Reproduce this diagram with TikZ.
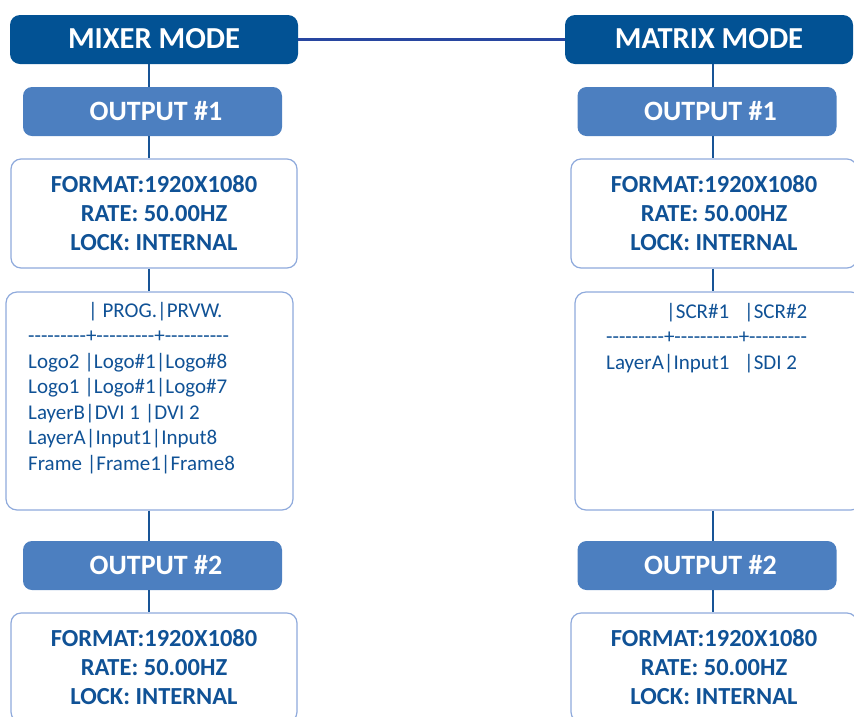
\documentclass[tikz,border=0pt]{standalone}
\usepackage{fontspec}
\setmainfont{Carlito}
\newfontfamily\tabfont{Carlito}[Ligatures=TeXOff]
\definecolor{titleblue}{RGB}{2,82,148}
\definecolor{outblue}{RGB}{76,127,192}
\definecolor{txtblue}{RGB}{16,82,150}
\definecolor{bordblue}{RGB}{143,170,220}
\definecolor{vconn}{RGB}{24,84,150}
\definecolor{hconn}{RGB}{40,70,160}
\tikzset{
  modebox/.style={fill=titleblue, rounded corners=10pt, minimum width=288pt, minimum height=49pt, inner sep=0pt, text=white, font=\bfseries\fontsize{30.5}{34}\selectfont},
  outbox/.style={fill=outblue, rounded corners=9pt, minimum width=259pt, minimum height=49pt, inner sep=0pt, text=white, font=\bfseries\fontsize{28}{31}\selectfont},
  fmtbox/.style={draw=bordblue, line width=1.2pt, fill=white, rounded corners=10pt, minimum width=286pt, minimum height=109pt, inner sep=0pt, text=txtblue, align=center, font=\bfseries\fontsize{24.5}{29}\selectfont},
  tabbox/.style={draw=bordblue, line width=1.2pt, fill=white, rounded corners=11pt, minimum width=287pt, minimum height=218pt, inner sep=0pt},
  tabline/.style={anchor=base west, inner sep=0pt, text=txtblue, font=\tabfont\fontsize{21}{25}\selectfont},
  vline/.style={draw=vconn, line width=2.6pt},
  hline/.style={draw=hconn, line width=3pt}
}
\newcommand{\uptxt}[2]{\raisebox{#1}{#2}}
\begin{document}
\begin{tikzpicture}[x=1pt,y=-1pt]
\useasboundingbox (0,0) rectangle (854,716);
\coordinate (colL) at (149,0);
\coordinate (colR) at (713,0);
% left column
\node[modebox] (mix) at (154,39.5) {\uptxt{2pt}{MIXER MODE}};
\node[outbox] (out1L) at (152.5,111.5) {\uptxt{1pt}{\hspace{7pt}OUTPUT \#1}};
\node[fmtbox] (fmtL) at (154,213.5) {FORMAT:1920X1080\\RATE: 50.00HZ\\LOCK: INTERNAL};
\node[tabbox] (tabL) at (149.5,401) {};
\node[outbox] (out2L) at (152.5,565.5) {\uptxt{1pt}{\hspace{7pt}OUTPUT \#2}};
\node[fmtbox] (fmt2L) at (154,667.5) {FORMAT:1920X1080\\RATE: 50.00HZ\\LOCK: INTERNAL};
% right column
\node[modebox] (mat) at (709,39.5) {\uptxt{2pt}{MATRIX MODE}};
\node[outbox] (out1R) at (707,111.5) {\uptxt{1pt}{\hspace{7pt}OUTPUT \#1}};
\node[fmtbox] (fmtR) at (714,213.5) {FORMAT:1920X1080\\RATE: 50.00HZ\\LOCK: INTERNAL};
\node[tabbox] (tabR) at (718.5,401) {};
\node[outbox] (out2R) at (707,565.5) {\uptxt{1pt}{\hspace{7pt}OUTPUT \#2}};
\node[fmtbox] (fmt2R) at (714,667.5) {FORMAT:1920X1080\\RATE: 50.00HZ\\LOCK: INTERNAL};
% left table text
\node[tabline] (hL) at (88,317) {| PROG.|PRVW.};
\node[tabline] (dL) at (28,342.5) {---------+---------+----------};
\node[tabline] (r1L) at (28,368) {Logo2 |Logo\#1|Logo\#8};
\node[tabline] (r2L) at (28,393.5) {Logo1 |Logo\#1|Logo\#7};
\node[tabline] (r3L) at (28,419) {LayerB|DVI 1 |DVI 2};
\node[tabline] (r4L) at (28,444.5) {LayerA|Input1|Input8};
\node[tabline] (r5L) at (28,470) {Frame |Frame1|Frame8};
% right table text
\node[tabline] (hR) at (666,318) {\makebox[78pt][l]{|SCR\#1}|SCR\#2};
\node[tabline] (dR) at (606,343.5) {---------+----------+---------};
\node[tabline] (r1R) at (606,369) {\makebox[138pt][l]{LayerA|Input1}|SDI 2};
% connectors
\draw[hline] (mix.east) -- (mat.west);
\foreach \c/\a/\b in {L/mix/out1L, L/out1L/fmtL, L/fmtL/tabL, L/tabL/out2L, L/out2L/fmt2L,
                      R/mat/out1R, R/out1R/fmtR, R/fmtR/tabR, R/tabR/out2R, R/out2R/fmt2R}
  \draw[vline] (\a.south -| col\c) -- (\b.north -| col\c);
\end{tikzpicture}
\end{document}
